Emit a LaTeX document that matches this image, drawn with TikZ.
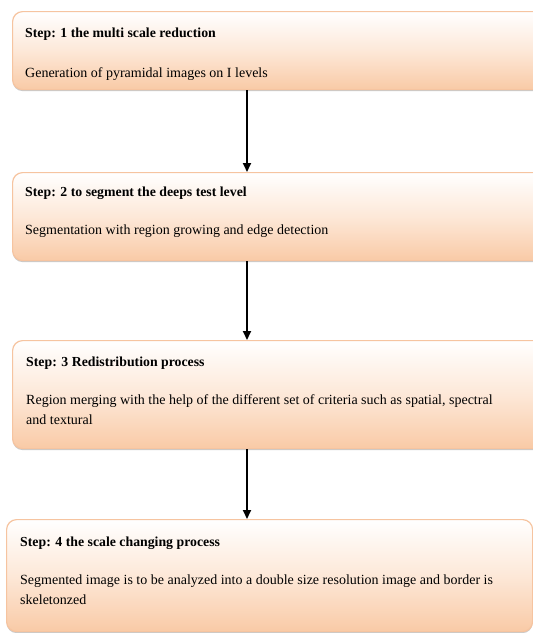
\documentclass[tikz,border=0pt]{standalone}
\usepackage{fontspec}
\setmainfont{Liberation Serif}
\usetikzlibrary{calc,shadows,arrows.meta}
\definecolor{peach}{RGB}{249,202,166}
\definecolor{peachmid}{RGB}{253,232,216}
\definecolor{peachline}{RGB}{246,196,160}
\tikzset{
  stepbox/.style={draw=peachline, line width=1.2pt, rounded corners=10pt,
    top color=white, bottom color=peach, middle color=peachmid,
    drop shadow={shadow xshift=0pt, shadow yshift=-1.5pt, opacity=0.35, fill=black!60},
    inner sep=0pt, anchor=north west},
  ttl/.style={anchor=base west, inner sep=0pt, font=\fontsize{13.8}{16}\selectfont\bfseries},
  body/.style={anchor=base west, inner sep=0pt, font=\fontsize{14}{16}\selectfont},
  flow/.style={line width=1.8pt, -{Triangle[length=9pt,width=8pt]}}
}
\begin{document}
\begin{tikzpicture}[x=1pt,y=1pt]
\useasboundingbox (0,0) rectangle (533,-633);
\clip (0,0) rectangle (533,-633);
\node[stepbox, minimum width=540pt, minimum height=78pt] (b1) at (12,-11) {};
\node[stepbox, minimum width=540pt, minimum height=88pt] (b2) at (12,-172) {};
\node[stepbox, minimum width=540pt, minimum height=108pt] (b3) at (12,-340) {};
\node[stepbox, minimum width=526pt, minimum height=112pt] (b4) at (6,-519) {};

\node[ttl] (t1) at (25,-37) {Step: 1 the multi scale reduction};
\node[body] (d1) at (25,-77) {Generation of pyramidal images on I levels};
\node[ttl] (t2) at (25,-196) {Step: 2 to segment the deeps test level};
\node[body] (d2) at (25,-234) {Segmentation with region growing  and edge detection};
\node[ttl] (t3) at (26,-366) {Step: 3 Redistribution process};
\node[body] (d3a) at (26,-404) {Region merging with the help of the different set of criteria such as spatial, spectral};
\node[body] (d3b) at (26,-424) {and textural};
\node[ttl] (t4) at (20,-546) {Step: 4 the scale changing process};
\node[body] (d4a) at (20,-584) {Segmented image is to be analyzed into a double size resolution image and border is};
\node[body] (d4b) at (20,-604) {skeletonzed};

\draw[flow] ($(b1.south west)+(235,0)$) -- ($(b2.north west)+(235,0)$);
\draw[flow] ($(b2.south west)+(235,0)$) -- ($(b3.north west)+(235,0)$);
\draw[flow] ($(b3.south west)+(235,0)$) -- ($(b4.north west)+(241,0)$);
\end{tikzpicture}
\end{document}
